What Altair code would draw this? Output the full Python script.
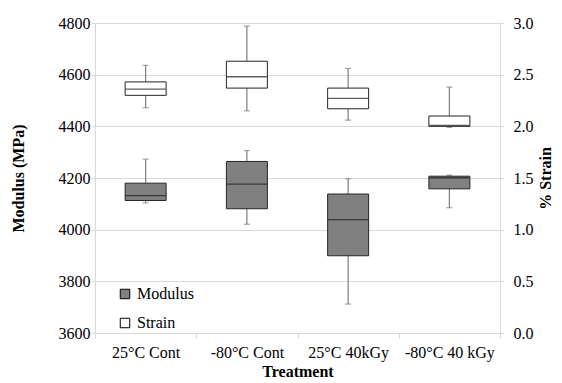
import altair as alt
import pandas as pd

categories = ["25°C Cont", "-80°C Cont", "25°C 40kGy", "-80°C 40 kGy"]

# Modulus (MPa) box statistics
mod_min = [4104, 4021, 3712, 4085]
mod_q1 = [4113, 4081, 3899, 4158]
mod_med = [4132, 4176, 4039, 4201]
mod_q3 = [4180, 4264, 4138, 4207]
mod_max = [4273, 4306, 4197, 4211]

# Strain (%) box statistics
str_min = [2.18, 2.15, 2.06, 1.99]
str_q1 = [2.30, 2.37, 2.17, 2.00]
str_med = [2.36, 2.48, 2.27, 2.01]
str_q3 = [2.43, 2.63, 2.37, 2.10]
str_max = [2.59, 2.97, 2.56, 2.38]

series_names = ["Modulus", "Strain"]
series_fill = ["#808080", "#ffffff"]

mod_df = pd.DataFrame({"cat": categories, "lo": mod_min, "q1": mod_q1, "med": mod_med,
                       "q3": mod_q3, "hi": mod_max, "series": "Modulus"})
str_df = pd.DataFrame({"cat": categories, "lo": str_min, "q1": str_q1, "med": str_med,
                       "q3": str_q3, "hi": str_max, "series": "Strain"})

FONT = "Liberation Serif"
GRID = "#d9d9d9"
FS = 16

x_enc = alt.X("cat:N", sort=categories, title="Treatment",
              scale=alt.Scale(paddingInner=0, paddingOuter=0),
              axis=alt.Axis(labelAngle=0, tickBand="extent", domainColor=GRID, tickColor=GRID,
                            tickSize=5, labelPadding=6, titlePadding=3,
                            labelFont=FONT, titleFont=FONT))

fill_enc = alt.Fill("series:N", scale=alt.Scale(domain=series_names, range=series_fill),
                    legend=alt.Legend(title=None, orient="none", legendX=22, legendY=263,
                                      symbolType="square", symbolSize=90,
                                      symbolStrokeColor="#000000", symbolStrokeWidth=1,
                                      rowPadding=13, labelFontSize=FS, labelFont=FONT,
                                      labelOffset=4, labelColor="#000000", padding=0))


def box_layer(df, scale, axis):
    base = alt.Chart(df).encode(x=x_enc)
    y_lo = alt.Y("lo:Q", scale=scale, axis=axis)
    whisk = base.mark_rule(color="#7f7f7f", strokeWidth=1.2).encode(y=y_lo, y2="hi:Q")
    cap_lo = base.mark_tick(color="#7f7f7f", size=6, thickness=1.2).encode(
        y=alt.Y("lo:Q", scale=scale, axis=axis))
    cap_hi = base.mark_tick(color="#7f7f7f", size=6, thickness=1.2).encode(
        y=alt.Y("hi:Q", scale=scale, axis=axis))
    box = base.mark_bar(size=41, stroke="#262626", strokeWidth=1).encode(
        y=alt.Y("q1:Q", scale=scale, axis=axis), y2="q3:Q", fill=fill_enc)
    med = base.mark_tick(color="#1a1a1a", size=40, thickness=1.3).encode(
        y=alt.Y("med:Q", scale=scale, axis=axis))
    return alt.layer(whisk, cap_lo, cap_hi, box, med)


mod_axis = alt.Axis(title="Modulus (MPa)", orient="left", values=list(range(3600, 4801, 200)),
                    format="d", grid=True, gridColor=GRID, domain=True, domainColor=GRID,
                    tickColor=GRID, tickSize=4, labelPadding=1, titlePadding=32,
                    labelFont=FONT, titleFont=FONT)
str_axis = alt.Axis(title="% Strain", orient="right", values=[0, 0.5, 1.0, 1.5, 2.0, 2.5, 3.0],
                    format=".1f", grid=False, domain=True, domainColor=GRID,
                    tickColor=GRID, tickSize=4, labelPadding=9, titlePadding=4,
                    titleAngle=270, titleBaseline="top",
                    labelFont=FONT, titleFont=FONT)

mod_layer = box_layer(mod_df, alt.Scale(domain=[3600, 4800], nice=False), mod_axis)
str_layer = box_layer(str_df, alt.Scale(domain=[0, 3], nice=False), str_axis)

chart = alt.layer(mod_layer, str_layer).resolve_scale(y="independent").properties(
    width=405, height=310,
    padding={"left": 2, "top": 7, "right": 0, "bottom": 0},
).configure(font=FONT).configure_view(stroke=None).configure_axis(
    labelFont=FONT, labelFontSize=FS, labelColor="#000000",
    titleFont=FONT, titleFontSize=FS, titleFontWeight="bold", titleColor="#000000",
).configure_legend(labelFont=FONT)

chart.save("out.html", embed_options={"renderer": "svg", "actions": False})
